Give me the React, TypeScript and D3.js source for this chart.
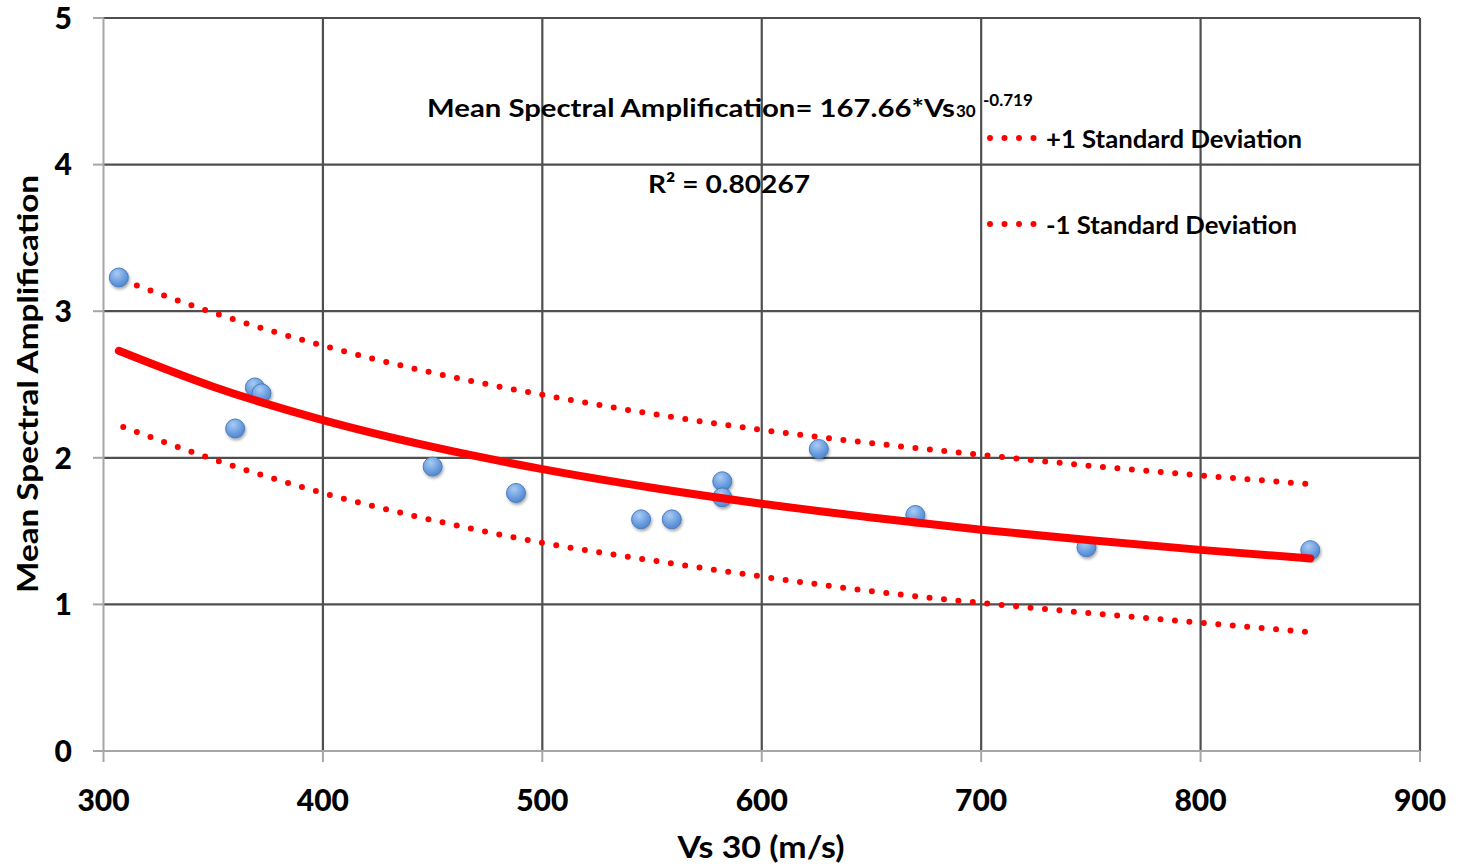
import React from "react";
import * as d3 from "d3";

const vs30 = [307, 360, 369, 372, 450, 488, 545, 559, 582, 582, 626, 670, 748, 850];
const amp = [3.23, 2.2, 2.48, 2.44, 1.94, 1.76, 1.58, 1.58, 1.84, 1.73, 2.06, 1.61, 1.39, 1.37];

// Power trendline (167.66*Vs30^-0.719) and ±1 SD curves, sampled
const curveVs = [307, 350, 400, 450, 500, 550, 600, 650, 700, 750, 800, 850];
const trendAmp = [2.73, 2.485, 2.257, 2.074, 1.923, 1.796, 1.687, 1.593, 1.509, 1.437, 1.372, 1.313];
const sdVs = [309, 350, 400, 450, 500, 550, 600, 650, 700, 750, 800, 850];
const upperAmp = [3.21, 2.99, 2.765, 2.58, 2.43, 2.3, 2.19, 2.1, 2.02, 1.945, 1.88, 1.82];
const lowerAmp = [2.21, 1.99, 1.76, 1.575, 1.42, 1.3, 1.19, 1.09, 1.01, 0.94, 0.875, 0.81];

const xTicks = [300, 400, 500, 600, 700, 800, 900];
const yTicks = [0, 1, 2, 3, 4, 5];

const FONT = "Lato, 'Open Sans', sans-serif";

export default function App() {
  const x = d3.scaleLinear().domain([300, 900]).range([103.5, 1420]);
  const y = d3.scaleLinear().domain([0, 5]).range([751, 18]);

  const line = d3
    .line<[number, number]>()
    .x((d) => x(d[0]))
    .y((d) => y(d[1]))
    .curve(d3.curveMonotoneX);

  const trendPath = line(curveVs.map((v, i) => [v, trendAmp[i]]) as [number, number][]) || "";
  const upperPath = line(sdVs.map((v, i) => [v, upperAmp[i]]) as [number, number][]) || "";
  const lowerPath = line(sdVs.map((v, i) => [v, lowerAmp[i]]) as [number, number][]) || "";

  const gridColor = "#4f4f4f";
  const axisColor = "#a6a6a6";

  return (
    <div style={{ position: "absolute", left: 0, top: 0 }}>
      <svg width={1459} height={867} style={{ display: "block", background: "#fff" }}>
        <defs>
          <radialGradient id="ptGrad" cx="40%" cy="30%" r="75%">
            <stop offset="0%" stopColor="#a9cbf2" />
            <stop offset="60%" stopColor="#6b9ee0" />
            <stop offset="100%" stopColor="#4f81c8" />
          </radialGradient>
          <filter id="shadow" x="-50%" y="-50%" width="200%" height="200%">
            <feDropShadow dx="1" dy="2" stdDeviation="1.5" floodColor="#000" floodOpacity="0.35" />
          </filter>
        </defs>

        {/* horizontal gridlines */}
        {yTicks.map((t) => (
          <g key={"y" + t}>
            <line x1={93} x2={103.5} y1={y(t)} y2={y(t)} stroke={axisColor} strokeWidth={2} />
            {t > 0 && (
              <line x1={103.5} x2={1420} y1={y(t)} y2={y(t)} stroke={gridColor} strokeWidth={2.2} />
            )}
            <text
              x={72}
              y={y(t)}
              dy="0.36em"
              textAnchor="end"
              fontFamily={FONT}
              fontWeight={900}
              fontSize={30}
              fill="#000"
            >
              {t}
            </text>
          </g>
        ))}
        {/* vertical gridlines */}
        {xTicks.map((t) => (
          <g key={"x" + t}>
            <line x1={x(t)} x2={x(t)} y1={751} y2={762} stroke={axisColor} strokeWidth={2} />
            {t > 300 && (
              <line x1={x(t)} x2={x(t)} y1={18} y2={751} stroke={gridColor} strokeWidth={2.2} />
            )}
            <text
              x={x(t)}
              y={811}
              textAnchor="middle"
              fontFamily={FONT}
              fontWeight={900}
              fontSize={30}
              fill="#000"
            >
              {t}
            </text>
          </g>
        ))}
        {/* axes */}
        <line x1={103.5} x2={103.5} y1={18} y2={751} stroke={axisColor} strokeWidth={2} />
        <line x1={103.5} x2={1420} y1={751} y2={751} stroke={axisColor} strokeWidth={2} />

        {/* SD curves */}
        <path d={upperPath} fill="none" stroke="#ff0000" strokeWidth={6} strokeLinecap="round" strokeDasharray="0 14.5" />
        <path d={lowerPath} fill="none" stroke="#ff0000" strokeWidth={6} strokeLinecap="round" strokeDasharray="0 14.5" />

        {/* points */}
        {vs30.map((v, i) => (
          <circle
            key={"p" + i}
            cx={x(v)}
            cy={y(amp[i])}
            r={9.5}
            fill="url(#ptGrad)"
            stroke="#4a7cc0"
            strokeWidth={1}
            filter="url(#shadow)"
          />
        ))}

        {/* trendline */}
        <path d={trendPath} fill="none" stroke="#ff0000" strokeWidth={8} strokeLinecap="round" />

        {/* equation annotation */}
        <text x={427} y={117} fontFamily={FONT} fontWeight={700} fontSize={25} fill="#000">
          <tspan textLength={528} lengthAdjust="spacingAndGlyphs">Mean Spectral Amplification= 167.66*Vs</tspan>
        </text>
        <text x={956} y={117} fontFamily={FONT} fontWeight={700} fontSize={17} fill="#000">
          30
        </text>
        <text x={983} y={106} fontFamily={FONT} fontWeight={700} fontSize={17} fill="#000">
          -0.719
        </text>
        <text x={648} y={193} fontFamily={FONT} fontWeight={700} fontSize={25} fill="#000" textLength={162} lengthAdjust="spacingAndGlyphs">
          R² = 0.80267
        </text>

        {/* legend */}
        <line x1={990} x2={1040} y1={138} y2={138} stroke="#ff0000" strokeWidth={6} strokeLinecap="round" strokeDasharray="0 14.5" />
        <text x={1046} y={148} fontFamily={FONT} fontWeight={700} fontSize={25} fill="#000" textLength={256} lengthAdjust="spacingAndGlyphs">
          +1 Standard Deviation
        </text>
        <line x1={990} x2={1040} y1={224} y2={224} stroke="#ff0000" strokeWidth={6} strokeLinecap="round" strokeDasharray="0 14.5" />
        <text x={1046} y={234} fontFamily={FONT} fontWeight={700} fontSize={25} fill="#000" textLength={251} lengthAdjust="spacingAndGlyphs">
          -1 Standard Deviation
        </text>

        {/* axis titles */}
        <text
          transform="translate(38,384) rotate(-90)"
          textAnchor="middle"
          fontFamily={FONT}
          fontWeight={700}
          fontSize={29}
          fill="#000"
          textLength={418}
          lengthAdjust="spacingAndGlyphs"
        >
          Mean Spectral Amplification
        </text>
        <text
          x={761}
          y={858}
          textAnchor="middle"
          fontFamily={FONT}
          fontWeight={700}
          fontSize={30}
          fill="#000"
          textLength={167}
          lengthAdjust="spacingAndGlyphs"
        >
          Vs 30 (m/s)
        </text>
      </svg>
    </div>
  );
}
